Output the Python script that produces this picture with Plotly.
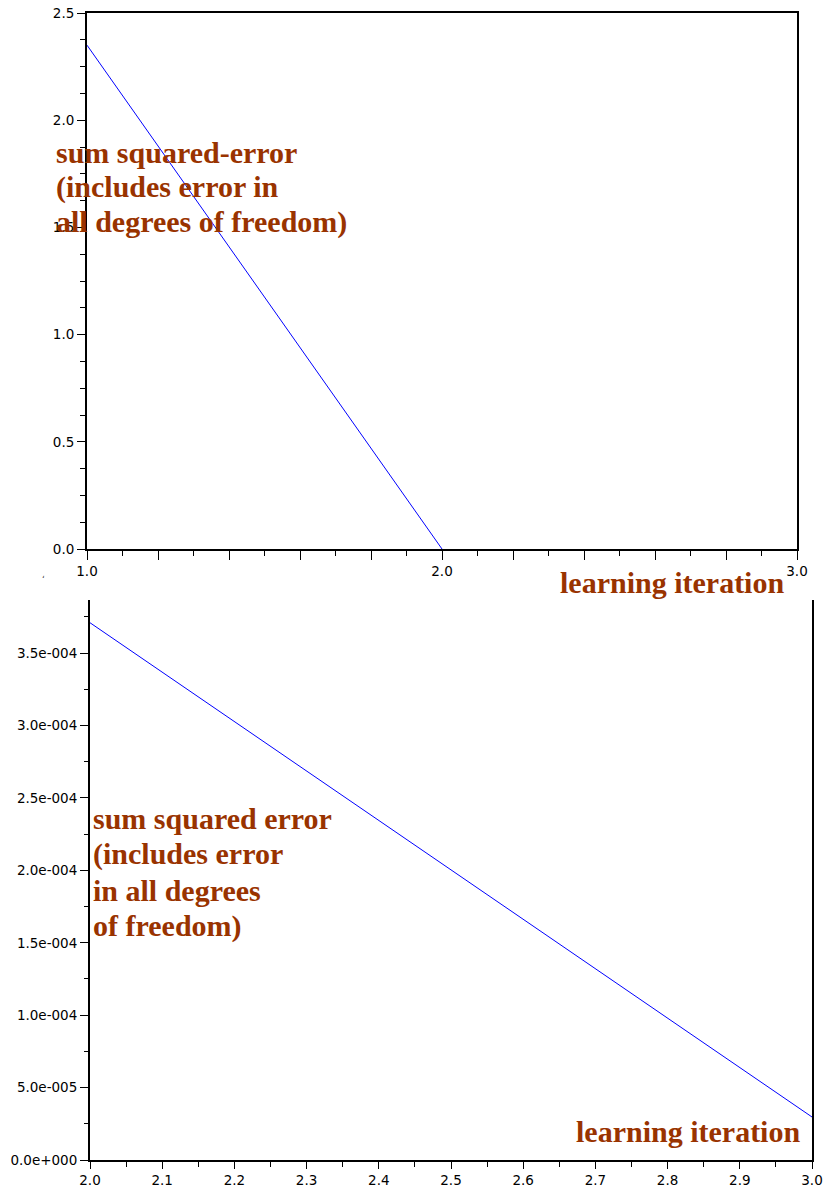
import plotly.graph_objects as go

W, H = 825, 1194

# ---- data ----
top_x = [1.0, 2.0]
top_y = [2.35, 0.0]
bottom_x = [2.0, 3.0]
bottom_y = [3.71e-4, 2.97e-5]

top_xtick_vals = [1.0, 1.2, 1.4, 1.6, 1.8, 2.0, 2.2, 2.4, 2.6, 2.8, 3.0]
top_xtick_text = ["1.0", "", "", "", "", "2.0", "", "", "", "", "3.0"]
top_ytick_vals = [0.0, 0.5, 1.0, 1.5, 2.0, 2.5]
top_ytick_text = ["0.0", "0.5", "1.0", "1.5", "2.0", "2.5"]
bottom_xtick_vals = [2.0, 2.1, 2.2, 2.3, 2.4, 2.5, 2.6, 2.7, 2.8, 2.9, 3.0]
bottom_xtick_text = ["2.0", "2.1", "2.2", "2.3", "2.4", "2.5", "2.6", "2.7", "2.8", "2.9", "3.0"]
bottom_ytick_vals = [0.0, 5e-5, 1e-4, 1.5e-4, 2e-4, 2.5e-4, 3e-4, 3.5e-4]
bottom_ytick_text = ["0.0e+000", "5.0e-005", "1.0e-004", "1.5e-004", "2.0e-004",
                     "2.5e-004", "3.0e-004", "3.5e-004"]

top_label_lines = ["sum squared-error", "(includes error in", "all degrees of freedom)"]
bottom_label_lines = ["sum squared error", "(includes error", "in all degrees", "of freedom)"]
x_label = "learning iteration"

# ---- helpers (pixel -> paper) ----
def px(x):
    return x / W

def py(y):
    return 1 - y / H

TEXT_COLOR = "#993300"
TICK_FONT = dict(family="DejaVu Sans", size=13.5, color="black")
ANN_FONT = dict(family="Liberation Serif", size=30, color=TEXT_COLOR)

fig = go.Figure()
fig.add_trace(go.Scatter(x=top_x, y=top_y, mode="lines",
                         line=dict(color="#0000FF", width=1),
                         xaxis="x", yaxis="y", showlegend=False))
fig.add_trace(go.Scatter(x=bottom_x, y=bottom_y, mode="lines",
                         line=dict(color="#0000FF", width=1),
                         xaxis="x2", yaxis="y2", showlegend=False))

common = dict(showgrid=False, zeroline=False, showline=True, linecolor="black",
              linewidth=2, ticks="outside", tickcolor="black", tickwidth=1,
              tickfont=TICK_FONT, automargin=False, fixedrange=True)

fig.update_layout(
    width=W, height=H,
    margin=dict(l=0, r=0, t=0, b=0),
    paper_bgcolor="white", plot_bgcolor="white",
    xaxis=dict(domain=[px(87), px(797)], anchor="y", range=[1, 3],
               tickmode="array", tickvals=top_xtick_vals, ticktext=top_xtick_text,
               ticklen=9, mirror=True,
               minor=dict(ticks="outside", dtick=0.1, tick0=1.0, ticklen=5,
                          tickcolor="black", tickwidth=1),
               **common),
    yaxis=dict(domain=[py(549), py(13)], anchor="x", range=[0, 2.5],
               tickmode="array", tickvals=top_ytick_vals, ticktext=top_ytick_text,
               ticklen=8, mirror=True,
               minor=dict(ticks="outside", dtick=0.125, tick0=0, ticklen=5,
                          tickcolor="black", tickwidth=1),
               **common),
    xaxis2=dict(domain=[px(90), px(812)], anchor="y2", range=[2, 3],
                tickmode="array", tickvals=bottom_xtick_vals, ticktext=bottom_xtick_text,
                ticklen=7,
                minor=dict(ticks="outside", dtick=0.05, tick0=2.0, ticklen=5,
                           tickcolor="black", tickwidth=1),
                **common),
    yaxis2=dict(domain=[py(1160), py(600)], anchor="x2", range=[0, 3.867e-4],
                tickmode="array", tickvals=bottom_ytick_vals, ticktext=bottom_ytick_text,
                ticklen=8, mirror=True,
                minor=dict(ticks="outside", dtick=2.5e-5, tick0=0, ticklen=4,
                           tickcolor="black", tickwidth=1),
                **common),
)


def add_text(text, x, y):
    fig.add_annotation(xref="paper", yref="paper", showarrow=False, font=ANN_FONT,
                       borderpad=0, text="<b>" + text + "</b>", x=px(x), y=py(y),
                       xanchor="left", yanchor="middle", align="left")


for i, line in enumerate(top_label_lines):
    add_text(line, 55, 152 + 35 * i)
for i, line in enumerate(bottom_label_lines):
    add_text(line, 92, 818 + 36 * i)
add_text(x_label, 559, 582)
add_text(x_label, 575, 1131)

fig.add_annotation(xref="paper", yref="paper", x=px(40), y=py(579), text="\u02bb",
                   showarrow=False, font=dict(family="DejaVu Sans", size=9, color="#444"))

fig.write_html("out.html", config={"displayModeBar": False},
               post_script="document.body.style.margin='0px';")
